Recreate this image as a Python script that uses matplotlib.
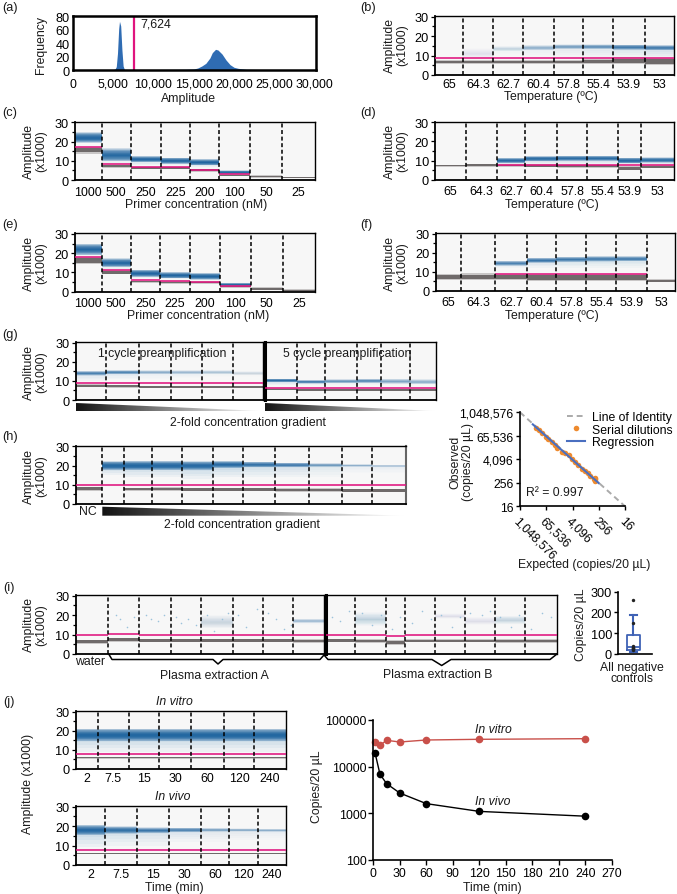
import numpy as np
import matplotlib
matplotlib.use('Agg')
import matplotlib.pyplot as plt
from matplotlib.patches import Polygon

plt.rcParams['font.family'] = ['Liberation Sans', 'DejaVu Sans']
plt.rcParams['font.size'] = 8.6
W, H = 677, 895
BLUE = '#125c9b'
GRAY = '#5f5a5a'
PINK = '#e0147e'
N = None

# ---------- (a) histogram
hist_x = [0, 5000, 5250, 5400, 5550, 5700, 5800, 5950, 6100, 6250, 6400, 7000, 10000, 14000, 15000, 15500, 16000,
          16500, 17000, 17300, 17700, 18000, 18500, 19000, 19500, 20000, 20500, 21500, 25000, 25300, 30000]
hist_y = [.5, .5, 1.5, 5, 25, 62, 73, 66, 30, 6, 1, .7, .7, 1, 1.5, 3, 6, 10, 18, 26, 31, 30, 24, 15, 8, 4, 2.5, 1, .5, 0, 0]
hist_threshold = 7624

# ---------- well labels
primer_labels = ['1000', '500', '250', '225', '200', '100', '50', '25']
temp_labels = ['65', '64.3', '62.7', '60.4', '57.8', '55.4', '53.9', '53']
time_labels = ['2', '7.5', '15', '30', '60', '120', '240']

# ---------- droplet bands: one value per well
c_edges = [75, 101.7, 130.7, 160.7, 189.7, 219.3, 250.3, 282.3, 315]
c_pos = [22, 13, 10.8, 10, 9.2, 4, N, N]
c_half = [2, 2.5, 1.2, 1.2, 1.2, .7, 0, 0]
c_alpha = [.95, .85, .95, .95, .95, .95, 0, 0]
c_tail = [19, 9, 8, 8, 7, 3.2, N, N]
c_thr = [17, 8.2, 6.8, 6.7, 5.3, 3, N, N]
c_neg = [15.5, 7.2, 6.2, 6.2, 5, 2.5, 1.8, 1.2]
c_neg_half = [1.2, .5, .4, .4, .5, .3, .4, .2]

e_edges = [75, 101.7, 130.7, 160, 189.7, 220, 251, 282.7, 315]
e_pos = [22, 15, 9.5, 8.5, 8, 3.7, N, N]
e_half = [2.2, 1.7, 1.4, 1.2, 1.3, .6, 0, 0]
e_alpha = [.9, .9, .95, .95, .95, .95, 0, 0]
e_tail = [19, 12, 7, 6.5, 6, 3, N, N]
e_thr = [18.2, 11.2, 6, 5.6, 5, 2.8, N, N]
e_neg = [16.2, 10, 5.2, 4.8, 4.7, 2.5, 1.5, .7]
e_neg_half = [1.2, .7, .4, .4, .4, .3, .5, .4]

b_edges = [435, 462.7, 493, 523, 553.7, 583, 613.3, 644.7, 674]
b_pos = [N, 11, 13.5, 14, 14.5, 14.5, 14.3, 14]
b_half = [0, 2, 1, 1, .9, .9, 1, 1]
b_alpha = [0, .03, .1, .25, .35, .45, .6, .65]
b_tail = [N, 8, 10, 9.5, 9, 9, 9, 9]
b_thr = [8.8] * 8
b_neg = [6.8, 6.8, 6.8, 6.7, 6.7, 6.8, 7.2, 7]
b_neg_half = [.6, .6, .6, .6, .7, .8, 1.2, 1.1]

d_edges = [435, 465.7, 496.7, 525.3, 556.7, 587.3, 618.3, 641.3, 674]
d_pos = [N, N, 10, 11, 11.2, 11.2, 10, 10.3]
d_half = [0, 0, 1, 1, 1, 1, 1.1, 1]
d_alpha = [0, 0, .9, .85, .85, .85, .95, .85]
d_tail = [N, N, 8, 8, 8, 8, 8, 8]
d_thr = [N, N, 7.8, 7.8, 7.8, 7.8, 7.8, 7.8]
d_neg = [7.3, 7.5, 7.4, 7.2, 7, 7, 6, 6.8]
d_neg_half = [.4, .5, .5, .5, .5, .5, .7, .6]

f_edges = [435.7, 461.3, 495.3, 526.7, 556.3, 586, 616, 647.3, 675]
f_pos = [N, N, 14.5, 16, 16.5, 16.8, 16.8, N]
f_half = [0, 0, 1, 1, 1.1, 1.1, 1, 0]
f_alpha = [0, 0, .55, .65, .6, .6, .6, 0]
f_tail = [N, N, 12, 12, 12, 12, 12, N]
f_thr = [N, N, 9, 9, 9, 9, 9, N]
f_neg = [7.5, 7.5, 7.3, 7.2, 7.2, 7.2, 7.2, 5.3]
f_neg_half = [1, 1.1, 1.2, 1.2, 1.2, 1.2, 1.2, .5]

g1_edges = [76, 106, 138.7, 170.7, 201.7, 233.3, 263]
g1_pos = [14, 14.5, 14.5, 14.5, 14.5, 14]
g1_half = [.9, .8, .8, .8, .8, .8]
g1_alpha = [.55, .5, .25, .2, .15, .07]
g1_tail = [10, 11, 11, 11.5, 12, 12]
g1_thr = [9] * 6
g1_neg = [7.4, 7.1, 6.9, 6.9, 6.9, 6.9]
g1_neg_half = [.5, .5, .4, .4, .4, .4]

g2_edges = [265, 297.3, 325, 356.7, 381, 410, 436]
g2_pos = [10.2, 9.5, 9.8, 10, 9.8, 9.5]
g2_half = [.7, .7, .8, .8, 1, 1]
g2_alpha = [.8, .65, .4, .5, .3, .25]
g2_tail = [8, 8, 8, 8, 8, 8]
g2_thr = [6.1] * 6
g2_neg = [5.6, 5.3, 5.3, 5.3, 5.3, 5.3]
g2_neg_half = [.4, .4, .4, .4, .4, .4]

h_edges = [76, 102.3, 123.7, 152.3, 181.7, 213.3, 243.3, 275.3, 309.3, 342.3, 372.3, 406]
h_pos = [N, 20, 20, 20, 20, 20.5, 20.5, 20.3, 20.2, 20, 19.8]
h_half = [0, 1.7, 1.8, 1.8, 1.7, 1.3, 1.1, .9, .7, .5, .5]
h_alpha = [0, .98, .98, .95, .9, .9, .75, .65, .4, .25, .2]
h_tail = [N, 15, 14, 14, 13, 14, 14, 14, 14, 16, 16]
h_thr = [10, 10, 10, 10, 10, 10, 10, 10, 10, 9.7, 9.7]
h_neg = [8, N, 7.7, 7.7, 7.6, 7.6, 7.5, 7.3, 7.3, 7, 7]
h_neg_half = [.7, 0, .5, .6, .6, .6, .6, .6, .6, .6, .6]

i1_edges = [76, 107.7, 139.3, 171, 201.3, 232.7, 262.7, 293.3, 324]
i1_pos = [N, N, N, N, 16.5, N, N, 17]
i1_half = [0, 0, 0, 0, 2.5, 0, 0, .8]
i1_alpha = [0, 0, 0, 0, .07, 0, 0, .22]
i1_tail = [N, N, N, N, 14, N, N, 15]
i1_thr = [9.6, 10.4, 10, 10, 10, 10, 10, 9.9]
i1_neg = [6.3, 7.3, 7, 7, 6.9, 6.9, 6.9, 6.8]
i1_neg_half = [.7, .7, .6, .6, .6, .6, .6, .6]

i2_edges = [326, 355, 386, 405, 435, 465, 495, 525, 557]
i2_pos = [N, 18, N, N, 19.5, 17, 17.5, N]
i2_half = [0, 2.5, 0, 0, 1, 1.5, 1.5, 0]
i2_alpha = [0, .1, 0, 0, .04, .04, .09, 0]
i2_tail = [N, 15, N, N, 18, 15, 15, N]
i2_thr = [9.8, 9.8, 9.2, 9.7, 9.7, 9.7, 9.7, 9.7]
i2_neg = [6.9, 6.8, 6, 6.9, 6.8, 6.7, 6.7, 6.8]
i2_neg_half = [.6, .6, .9, .5, .5, .5, .6, .6]

j1_edges = [76, 98, 128.7, 159.3, 191.3, 223.7, 254.3, 285.7]
j1_pos = [17.8] * 7
j1_half = [2.4] * 7
j1_alpha = [.98] * 7
j1_tail = [9] * 7
j1_thr = [7.7] * 7
j1_neg = [5.8] * 7
j1_neg_half = [.3] * 7

j2_edges = [76, 105, 136.7, 168.7, 201, 228.7, 258.3, 285.7]
j2_pos = [18, 18, 17.8, 18, 18, 18, 17.8]
j2_half = [2, 1.4, 1.1, .9, .7, .6, .6]
j2_alpha = [.9, .75, .65, .55, .35, .3, .25]
j2_tail = [9, 10, 10, 12, 12, 13, 13]
j2_thr = [7.8] * 7
j2_neg = [5.9] * 7
j2_neg_half = [.3] * 7

# sparse droplets
i_dots_x = [116, 120, 127, 134, 146, 151, 158, 164, 176, 181, 188, 196, 207, 214, 222, 228, 238, 246, 257, 268, 276,
            284, 291, 332, 340, 349, 362, 372, 381, 392, 400, 412, 422, 431, 441, 452, 460, 470, 482, 490, 500, 511,
            519, 531, 542, 551]
i_dots_y = [20, 18, 14, 19, 20, 18, 17, 20, 19, 16, 18, 15, 20, 12, 18, 21, 20, 14, 23, 21, 18, 13, 15, 19, 17, 22,
            21, 15, 20, 13, 19, 16, 22, 18, 20, 14, 19, 21, 20, 22, 19, 14, 20, 13, 21, 19]

# ---------- correlation panel
corr_log_exp = [17.55, 17.1, 16.6, 16.1, 15.7, 15.2, 14.7, 14.3, 13.6, 13.1, 12.6, 12.1, 11.6, 11.1, 10.6, 10.1, 9.7, 9.3, 8.8, 8.5, 8.5, 8.5]
corr_log_obs = [17.35, 16.95, 16.5, 15.8, 15.4, 14.95, 14.4, 14.0, 13.3, 13.0, 12.7, 12.0, 11.5, 11.0, 10.4, 10.0, 9.6, 9.2, 8.6, 8.9, 8.3, 8.6]
corr_exp = [2.0 ** v for v in corr_log_exp]
corr_obs = [2.0 ** v for v in corr_log_obs]
reg_x = [2**18.05, 2**8]
reg_y = [2**17.95, 2**7.95]
identity = [2**20, 2**4]
corr_ticks = [1048576, 65536, 4096, 256, 16]
corr_labels = ['1,048,576', '65,536', '4,096', '256', '16']

# ---------- negative control box
box_stats = dict(med=35, q1=17, q3=90, whislo=10, whishi=190, fliers=[])
box_dots = [260, 150, 40, 35, 30, 28, 25, 22, 20]

# ---------- time course
time_min = [2, 7.5, 15, 30, 60, 120, 240]
in_vitro = [33700, 28600, 36600, 33700, 37200, 38500, 39700]
in_vivo = [19600, 6900, 4300, 2700, 1600, 1090, 860]

fig = plt.figure(figsize=(W / 100, H / 100), dpi=100)


def add_ax(l, t, r, b, **kw):
    return fig.add_axes([l / W, 1 - b / H, (r - l) / W, (b - t) / H], **kw)


ov = fig.add_axes([0, 0, 1, 1], zorder=20)
ov.set_xlim(0, W)
ov.set_ylim(H, 0)
ov.axis('off')
ov.patch.set_alpha(0)


def T(x, y, s, **kw):
    kw.setdefault('ha', 'center')
    kw.setdefault('va', 'center')
    kw.setdefault('fontsize', 8.8)
    ov.text(x, y, s, color='#1a1a1a', **kw)


CORE = np.linspace(1.35, .12, 11)
TAIL = [1, .8, .6, .4, .25, .12]


def amp_panel(t, b, edges, pos, half, alpha, tail, thr, neg, neg_half, labels=None, dist=10):
    ax = add_ax(edges[0], t, edges[-1], b)
    ax.set_facecolor('#f7f7f7')
    ax.set_xlim(edges[0], edges[-1])
    ax.set_ylim(0, 30.3)
    for i in range(len(pos)):
        x0, x1 = edges[i], edges[i + 1]
        if neg[i] is not None:
            ax.fill_between([x0, x1], neg[i] - neg_half[i] * 1.5, neg[i] + neg_half[i] * 1.5, color=GRAY, alpha=.3, lw=0)
            ax.fill_between([x0, x1], neg[i] - neg_half[i], neg[i] + neg_half[i], color=GRAY, alpha=.85, lw=0)
        if pos[i] is not None:
            for f in TAIL:
                ax.fill_between([x0, x1], pos[i] - (pos[i] - tail[i]) * f, pos[i], color='#3d86bb',
                                alpha=alpha[i] * .06, lw=0)
            for k in CORE:
                ax.fill_between([x0, x1], pos[i] - half[i] * k, pos[i] + half[i] * k, color=BLUE,
                                alpha=alpha[i] * .2, lw=0)
        if thr[i] is not None:
            ax.plot([x0, x1], [thr[i], thr[i]], color=PINK, lw=1.15, solid_capstyle='butt', zorder=4)
    for x in edges[1:-1]:
        ax.axvline(x, color='black', lw=1.1, dashes=(2.6, 1.7), zorder=5)
    ax.set_yticks([0, 10, 20, 30])
    ax.set_yticks([5, 15, 25], minor=True)
    ax.tick_params(axis='y', which='major', length=3, width=.9, pad=1.5, labelsize=9.2)
    ax.tick_params(axis='y', which='minor', length=2, width=.9)
    mids = [(edges[i] + edges[i + 1]) / 2 for i in range(len(pos))]
    ax.set_xticks(mids if labels else [])
    if labels:
        ax.set_xticklabels(labels)
    ax.tick_params(axis='x', length=0, pad=(dist - 4.5) * .72, labelsize=8.9)
    for s in ax.spines.values():
        s.set_linewidth(1.0)
    ax.spines['left'].set_linewidth(1.3)
    ax.spines['bottom'].set_linewidth(1.3)
    return ax


def wedge(x0, x1, y0, y1):
    grad = np.linspace(0.08, 1, 256).reshape(1, -1)
    im = ov.imshow(grad, extent=[x0, x1, y1, y0], aspect='auto', cmap='gray', vmin=0, vmax=1, zorder=3)
    poly = Polygon([[x0, y0], [x1, y1], [x0, y1]], transform=ov.transData, fc='none', ec='none')
    ov.add_patch(poly)
    im.set_clip_path(poly)
    ov.set_xlim(0, W)
    ov.set_ylim(H, 0)


# (a)
ax = add_ax(72.7, 17, 316, 71)
ax.fill_between(hist_x, hist_y, color='#2f6cb3', lw=0)
ax.axvline(hist_threshold, color=PINK, lw=1.6)
ax.set_xlim(0, 30150)
ax.set_ylim(0, 81)
ax.set_xticks([0, 5000, 10000, 15000, 20000, 25000, 30000])
ax.set_xticklabels(['0', '5,000', '10,000', '15,000', '20,000', '25,000', '30,000'])
ax.set_yticks([0, 20, 40, 60, 80])
ax.tick_params(axis='x', length=0, pad=5.5, labelsize=8.9)
ax.tick_params(axis='y', length=0, pad=2, labelsize=9.2)
for s in ax.spines.values():
    s.set_linewidth(1.8)
T(156, 24, '7,624', fontsize=8.9)

# amplitude panels
amp_panel(17, 76, b_edges, b_pos, b_half, b_alpha, b_tail, b_thr, b_neg, b_neg_half, temp_labels, dist=8)
amp_panel(122.7, 181, c_edges, c_pos, c_half, c_alpha, c_tail, c_thr, c_neg, c_neg_half, primer_labels)
amp_panel(122.7, 180.7, d_edges, d_pos, d_half, d_alpha, d_tail, d_thr, d_neg, d_neg_half, temp_labels)
amp_panel(234.3, 292.7, e_edges, e_pos, e_half, e_alpha, e_tail, e_thr, e_neg, e_neg_half, primer_labels)
amp_panel(234, 292, f_edges, f_pos, f_half, f_alpha, f_tail, f_thr, f_neg, f_neg_half, temp_labels)
amp_panel(343, 401, g1_edges, g1_pos, g1_half, g1_alpha, g1_tail, g1_thr, g1_neg, g1_neg_half)
g2 = amp_panel(343, 401, g2_edges, g2_pos, g2_half, g2_alpha, g2_tail, g2_thr, g2_neg, g2_neg_half)
g2.tick_params(axis='y', which='both', left=False, labelleft=False)
g2.spines['left'].set_linewidth(2.2)
hp = amp_panel(446.7, 505, h_edges, h_pos, h_half, h_alpha, h_tail, h_thr, h_neg, h_neg_half)
hp.spines['right'].set(color='#666666', linewidth=1.5)
i1 = amp_panel(596, 655, i1_edges, i1_pos, i1_half, i1_alpha, i1_tail, i1_thr, i1_neg, i1_neg_half)
i2 = amp_panel(596, 655, i2_edges, i2_pos, i2_half, i2_alpha, i2_tail, i2_thr, i2_neg, i2_neg_half)
i2.tick_params(axis='y', which='both', left=False, labelleft=False)
i2.spines['left'].set_linewidth(2.2)
for a, lo, hi in ((i1, 76, 324), (i2, 326, 557)):
    sel = [(x, y) for x, y in zip(i_dots_x, i_dots_y) if lo <= x <= hi]
    a.scatter([p[0] for p in sel], [p[1] for p in sel], s=1.3, color='#9cc3dc', lw=0, zorder=3)
amp_panel(712, 770, j1_edges, j1_pos, j1_half, j1_alpha, j1_tail, j1_thr, j1_neg, j1_neg_half, time_labels, dist=8)
amp_panel(807, 866, j2_edges, j2_pos, j2_half, j2_alpha, j2_tail, j2_thr, j2_neg, j2_neg_half, time_labels, dist=8)

# gradient wedges
wedge(76, 263, 404, 412)
wedge(265, 436, 404, 412)
wedge(102.3, 406, 507.7, 516.7)

# brackets (i)
ov.plot([109, 112, 213, 218, 223, 320, 324, 328, 432, 441.7, 451, 550, 557],
        [655.5, 660.5, 660.5, 665, 660.5, 660.5, 656, 660.5, 660.5, 666.5, 660.5, 660.5, 655],
        color='black', lw=1.1, solid_joinstyle='round')

# correlation
ax = add_ax(520, 413.3, 625, 507.3)
ax.patch.set_alpha(0)
ax.set_xscale('log', base=2)
ax.set_yscale('log', base=2)
ax.set_xlim(2**20, 2**4)
ax.set_ylim(2**4, 2**20)
l1, = ax.plot(identity, identity, color='#aaaaaa', lw=1.4, dashes=(3, 2), label='Line of Identity', clip_on=False)
l2, = ax.plot(corr_exp, corr_obs, 'o', color='#ee8a2e', ms=4, mew=0, label='Serial dilutions', clip_on=False)
l3, = ax.plot(reg_x, reg_y, color='#4a6fc0', lw=1.5, label='Regression')
ax.set_xticks(corr_ticks)
ax.set_xticklabels(corr_labels, rotation=-45, ha='left', rotation_mode='anchor')
ax.set_yticks(corr_ticks)
ax.set_yticklabels(corr_labels)
ax.minorticks_off()
ax.tick_params(length=3, width=1, pad=1.5, labelsize=8.8)
ax.tick_params(axis='x', pad=3)
ax.spines[['top', 'right']].set_visible(False)
ax.spines[['left', 'bottom']].set_linewidth(1.2)
ov.legend(handles=[l1, l2, l3], loc='upper left', bbox_to_anchor=(567, 412), bbox_transform=ov.transData,
          frameon=False, fontsize=8.8, borderpad=0, borderaxespad=0, labelspacing=.05, handlelength=1.5,
          handletextpad=.55)
T(525.7, 493, 'R² = 0.997', ha='left', fontsize=8.8)

# box
ax = add_ax(618.3, 592.7, 651.7, 655)
ax.patch.set_alpha(0)
ax.bxp([box_stats], positions=[.45], widths=[.39], showfliers=False,
       boxprops=dict(color='#3f62b5', lw=1.3), whiskerprops=dict(color='#3f62b5', lw=1.5),
       capprops=dict(color='#3f62b5', lw=1.5), medianprops=dict(color='#3f62b5', lw=1.3))
ax.scatter([.45] * len(box_dots), box_dots, s=6, color='#222222', lw=0, zorder=5, clip_on=False)
ax.set_xlim(0, 1)
ax.set_ylim(0, 300)
ax.set_xticks([])
ax.set_yticks([0, 100, 200, 300])
ax.tick_params(axis='y', length=3, width=1, pad=1.5, labelsize=9.2)
ax.spines[['top', 'right']].set_visible(False)
ax.spines[['left', 'bottom']].set_linewidth(1.2)

# time course
ax = add_ax(373.3, 721, 611.7, 860.7)
ax.set_yscale('log')
ax.plot(time_min, in_vitro, '-o', color='#c9504a', lw=1, ms=5.5, mew=0, clip_on=False)
ax.plot(time_min, in_vivo, '-o', color='black', lw=1, ms=5.5, mew=0, clip_on=False)
ax.set_xlim(0, 270)
ax.set_ylim(100, 100000)
ax.set_xticks(list(range(0, 271, 30)))
ax.set_yticks([100, 1000, 10000, 100000])
ax.set_yticklabels(['100', '1000', '10000', '100000'])
ax.minorticks_off()
ax.tick_params(length=3.5, width=1, pad=1.5, labelsize=8.9)
ax.spines[['top', 'right']].set_visible(False)
ax.spines[['left', 'bottom']].set_linewidth(1.2)

# panel letters
for s, x, y in [('(a)', 2, 8), ('(b)', 360, 8), ('(c)', 2, 113), ('(d)', 360, 113), ('(e)', 2, 225), ('(f)', 360, 225),
                ('(g)', 2, 335), ('(h)', 2, 437), ('(i)', 3, 588), ('(j)', 3, 702)]:
    T(x, y, s, ha='left', fontsize=9.2)

# axis titles
amp = 'Amplitude\n(x1000)'
for x, y in [(35.5, 151), (396, 45), (396, 151), (35.5, 263), (396, 263), (35.5, 372), (35.5, 476), (35.5, 625)]:
    T(x, y, amp, rotation=90, linespacing=1.05, multialignment='center')
T(41, 45, 'Frequency', rotation=90)
T(28, 784, 'Amplitude (x1000)', rotation=90)
T(188, 99, 'Amplitude')
T(196, 205, 'Primer concentration (nM)')
T(198, 316, 'Primer concentration (nM)')
T(551, 97, 'Temperature (ºC)')
T(552, 205, 'Temperature (ºC)')
T(552, 316, 'Temperature (ºC)')
T(248, 423, '2-fold concentration gradient')
T(242, 525, '2-fold concentration gradient')
T(162, 354, '1 cycle preamplification', fontsize=8.8)
T(347, 354, '5 cycle preamplification', fontsize=8.8)
T(88, 512, 'NC')
T(90, 662, 'water')
T(214, 676, 'Plasma extraction A')
T(438, 675, 'Plasma extraction B')
T(174, 702, 'In vitro', style='italic')
T(173, 797, 'In vivo', style='italic')
T(174, 888, 'Time (min)')
T(462, 462, 'Observed\n(copies/20 µL)', rotation=90, linespacing=1.05, multialignment='center')
T(584, 565, 'Expected (copies/20 µL)')
T(581, 625, 'Copies/20 µL', rotation=90)
T(632, 673.5, 'All negative\ncontrols', linespacing=.95)
T(493, 730, 'In vitro', style='italic')
T(493, 802, 'In vivo', style='italic')
T(317, 787, 'Copies/20 µL', rotation=90)
T(492, 888, 'Time (min)')

fig.savefig('out.png', dpi=100)
